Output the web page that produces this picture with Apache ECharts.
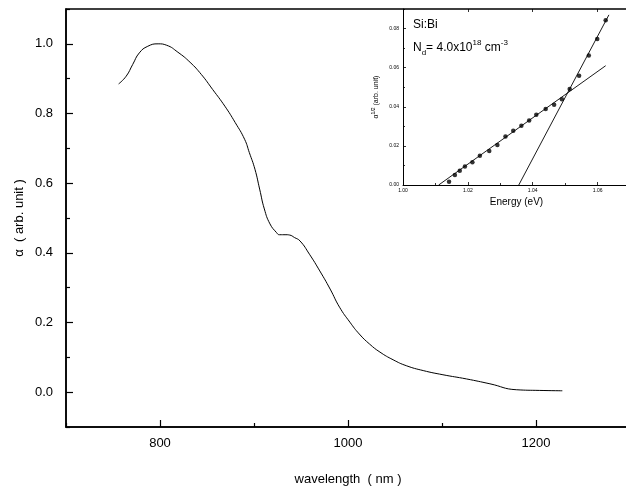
<!DOCTYPE html>
<html>
<head>
<meta charset="utf-8">
<script src="https://cdn.jsdelivr.net/npm/echarts@6/dist/echarts.min.js"></script>
<style>
html, body { margin: 0; padding: 0; background: #fff; }
#chart { width: 626px; height: 486px; }
</style>
</head>
<body>
<div id="chart"></div>
<script>
// main spectrum
var wavelength = [756, 764, 771, 778, 787, 798, 807, 819, 832, 844, 856, 869, 880, 890, 895, 901, 906, 911, 917, 924, 927, 934, 938, 943, 949, 959, 970, 981, 991, 1002, 1012, 1023, 1034, 1048, 1062, 1080, 1101, 1126, 1151, 1179, 1204, 1228];
var alpha = [0.885, 0.907, 0.941, 0.974, 0.993, 1.000, 0.996, 0.976, 0.947, 0.912, 0.869, 0.821, 0.774, 0.726, 0.688, 0.640, 0.583, 0.526, 0.483, 0.458, 0.452, 0.452, 0.451, 0.444, 0.434, 0.396, 0.348, 0.296, 0.244, 0.201, 0.167, 0.138, 0.115, 0.093, 0.076, 0.062, 0.050, 0.038, 0.024, 0.007, 0.005, 0.004];

// inset: alpha^1/2 vs energy
var energy = [1.0142, 1.0160, 1.0175, 1.0191, 1.0214, 1.0237, 1.0266, 1.0291, 1.0316, 1.0340, 1.0365, 1.0389, 1.0411, 1.0440, 1.0466, 1.0490, 1.0514, 1.0543, 1.0573, 1.0599, 1.0625];
var sqrtAlpha = [0.0017, 0.0051, 0.0073, 0.0094, 0.0116, 0.0149, 0.0174, 0.0205, 0.0248, 0.0277, 0.0303, 0.0330, 0.0359, 0.0388, 0.0410, 0.0439, 0.0491, 0.0559, 0.0662, 0.0747, 0.0843];
var fitLowE = [1.011, 1.0625];
var fitLowA = [0, 0.061];
var fitHighE = [1.0357, 1.0635];
var fitHighA = [0, 0.087];

// ticks
var mainXMajor = [800, 1000, 1200];
var mainXMinor = [700, 900, 1100, 1300];
var mainYMajor = [0, 0.2, 0.4, 0.6, 0.8, 1.0];
var mainYMinor = [-0.1, 0.1, 0.3, 0.5, 0.7, 0.9, 1.1];
var insetXMajor = [1.00, 1.02, 1.04, 1.06];
var insetXMinor = [1.01, 1.03, 1.05, 1.07];
var insetYMajor = [0, 0.02, 0.04, 0.06, 0.08];
var insetYMinor = [0.01, 0.03, 0.05, 0.07, 0.09];

function zip(a, b) {
    return a.map(function (v, i) { return [v, b[i]]; });
}

var FONT = 'Liberation Sans, Arial, sans-serif';
var MAIN_GRID = { left: 66, top: 9, right: -4, bottom: 59, outerBoundsMode: 'none' };
var INSET_GRID = { left: 403, top: 9, right: -4, bottom: 301, outerBoundsMode: 'none' };

function copy(o, extra) {
    var r = {};
    for (var k in o) r[k] = o[k];
    for (var k2 in extra || {}) r[k2] = extra[k2];
    return r;
}

// axis that only draws inward ticks at the given values
function tickAxis(grid, min, max, pos, values, len, width, extra) {
    return copy({
        type: 'value',
        gridIndex: grid,
        min: min,
        max: max,
        position: pos,
        splitLine: { show: false },
        axisLine: { show: false, onZero: false },
        axisTick: { show: true, inside: true, length: len, customValues: values, lineStyle: { color: '#000', width: width } },
        axisLabel: { show: false }
    }, extra);
}

function hiddenAxis(grid) {
    return { type: 'value', gridIndex: grid, min: 0, max: 1, show: false };
}

var myChart = echarts.init(document.getElementById('chart'));
myChart.setOption({
    animation: false,
    backgroundColor: '#fff',
    grid: [
        copy(MAIN_GRID, { show: true, borderColor: '#000', borderWidth: 1.5 }),
        copy(MAIN_GRID),
        copy(INSET_GRID),
        copy(INSET_GRID),
        copy(INSET_GRID)
    ],
    xAxis: [
        tickAxis(0, 700, 1300, 'bottom', mainXMajor, 7, 1.2, {
            name: 'wavelength  ( nm )',
            nameLocation: 'middle',
            nameGap: 46,
            nameMoveOverlap: false,
            nameTextStyle: { fontFamily: FONT, fontSize: 13, color: '#000' },
            axisLine: { show: true, onZero: false, lineStyle: { color: '#000', width: 1.5 } },
            axisLabel: {
                show: true, customValues: mainXMajor, margin: 10, fontFamily: FONT, fontSize: 13, color: '#000',
                formatter: function (v) { return String(v); }
            }
        }),
        tickAxis(1, 700, 1300, 'bottom', mainXMinor, 4, 1.2),
        tickAxis(2, 1.00, 1.07, 'bottom', insetXMajor, 3, 0.8, {
            name: 'Energy (eV)',
            nameLocation: 'middle',
            nameGap: 12,
            nameMoveOverlap: false,
            nameTextStyle: { fontFamily: FONT, fontSize: 10, color: '#000' },
            axisLine: { show: true, onZero: false, lineStyle: { color: '#000', width: 1 } },
            axisLabel: {
                show: true, customValues: insetXMajor, margin: 3, fontFamily: FONT, fontSize: 5, color: '#000',
                formatter: function (v) { return v.toFixed(2); }
            }
        }),
        tickAxis(3, 1.00, 1.07, 'bottom', insetXMinor, 2, 0.8),
        tickAxis(4, 1.00, 1.07, 'top', insetXMajor, 3, 0.8)
    ],
    yAxis: [
        tickAxis(0, -0.1, 1.1, 'left', mainYMajor, 7, 1.2, {
            name: 'α  ( arb. unit )',
            nameLocation: 'middle',
            nameGap: 40,
            nameMoveOverlap: false,
            nameTextStyle: { fontFamily: FONT, fontSize: 13, color: '#000' },
            axisLine: { show: true, onZero: false, lineStyle: { color: '#000', width: 1.5 } },
            axisLabel: {
                show: true, customValues: mainYMajor, margin: 13, fontFamily: FONT, fontSize: 13, color: '#000',
                formatter: function (v) { return v.toFixed(1); }
            }
        }),
        tickAxis(1, -0.1, 1.1, 'left', mainYMinor, 4, 1.2),
        tickAxis(2, 0, 0.09, 'left', insetYMajor, 3, 0.8, {
            name: '{t|α}{s|1/2}{t| (arb. unit)}',
            nameLocation: 'middle',
            nameGap: 22,
            nameMoveOverlap: false,
            nameTextStyle: {
                fontFamily: FONT, fontSize: 7, color: '#000',
                rich: {
                    t: { fontFamily: FONT, fontSize: 7, color: '#000', lineHeight: 10 },
                    s: { fontFamily: FONT, fontSize: 5, color: '#000', verticalAlign: 'top', lineHeight: 10 }
                }
            },
            axisLine: { show: true, onZero: false, lineStyle: { color: '#000', width: 1 } },
            axisLabel: {
                show: true, customValues: insetYMajor, margin: 4, fontFamily: FONT, fontSize: 5, color: '#000',
                formatter: function (v) { return v.toFixed(2); }
            }
        }),
        tickAxis(3, 0, 0.09, 'left', insetYMinor, 2, 0.8),
        hiddenAxis(4)
    ],
    graphic: [
        {
            type: 'text', left: 413, top: 19,
            style: { text: 'Si:Bi', fontFamily: FONT, fontSize: 12, fill: '#000' }
        },
        {
            type: 'text', left: 413, top: 39,
            style: {
                text: '{t|N}{b|d}{t|= 4.0x10}{p|18}{t| cm}{p|-3}',
                fontFamily: FONT, fontSize: 12, fill: '#000',
                rich: {
                    t: { fontFamily: FONT, fontSize: 12, fill: '#000', lineHeight: 18, verticalAlign: 'middle' },
                    b: { fontFamily: FONT, fontSize: 8, fill: '#000', lineHeight: 8, verticalAlign: 'bottom' },
                    p: { fontFamily: FONT, fontSize: 8, fill: '#000', lineHeight: 8, verticalAlign: 'top' }
                }
            }
        }
    ],
    series: [
        {
            type: 'line',
            xAxisIndex: 0, yAxisIndex: 0,
            data: zip(wavelength, alpha),
            smooth: 0.5,
            showSymbol: false,
            lineStyle: { color: '#000', width: 1 }
        },
        {
            type: 'line',
            xAxisIndex: 2, yAxisIndex: 2,
            data: zip(fitLowE, fitLowA),
            showSymbol: false,
            lineStyle: { color: '#000', width: 0.9 }
        },
        {
            type: 'line',
            xAxisIndex: 2, yAxisIndex: 2,
            data: zip(fitHighE, fitHighA),
            showSymbol: false,
            lineStyle: { color: '#000', width: 0.9 }
        },
        {
            type: 'scatter',
            xAxisIndex: 2, yAxisIndex: 2,
            data: zip(energy, sqrtAlpha),
            symbol: 'circle',
            symbolSize: 4.5,
            itemStyle: { color: '#000' }
        }
    ]
});
</script>
</body>
</html>
